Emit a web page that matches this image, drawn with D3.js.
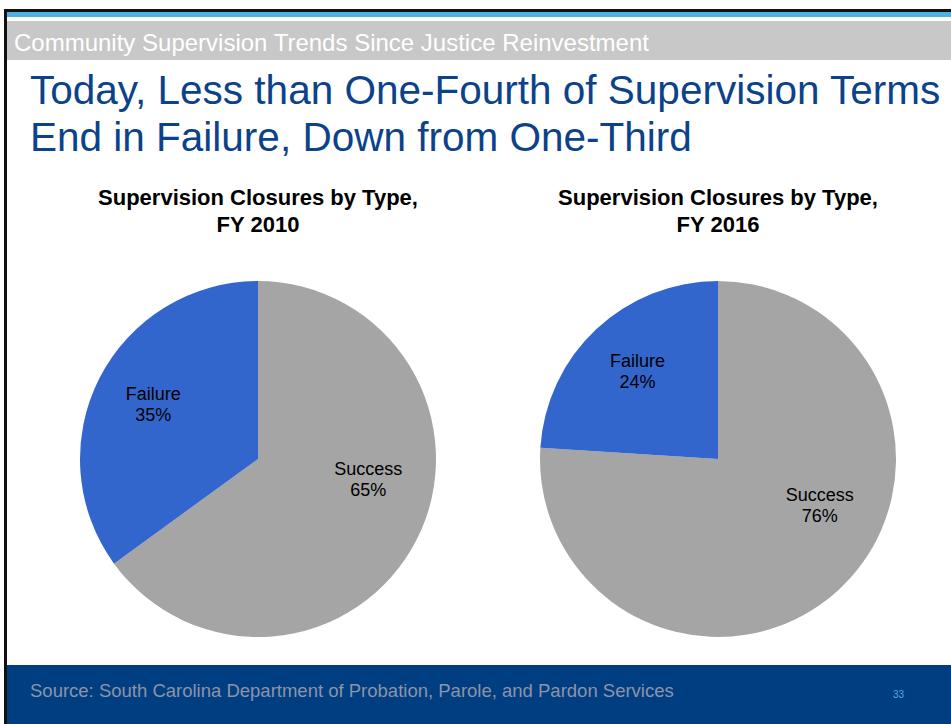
<!DOCTYPE html>
<html>
<head>
<meta charset="utf-8">
<script src="https://cdnjs.cloudflare.com/ajax/libs/d3/7.8.5/d3.min.js"></script>
<style>
  html, body { margin: 0; padding: 0; background: #fff; }
  svg { display: block; font-family: "Liberation Sans", Arial, sans-serif; }
</style>
</head>
<body>
<script>
// DATA
var categories = ["Success", "Failure"];
var years = ["FY 2010", "FY 2016"];
var values2010 = [65, 35];
var values2016 = [76, 24];
var colours = ["#a5a5a5", "#3366cc"];

var width = 951, height = 724;

var svg = d3.select("body").append("svg")
  .attr("width", width).attr("height", height)
  .attr("viewBox", "0,0," + width + "," + height);

// frame and header bands
svg.append("rect").attr("x", 4).attr("y", 9).attr("width", width - 4).attr("height", 3).attr("fill", "#111");
svg.append("rect").attr("x", 4).attr("y", 9).attr("width", 3).attr("height", height - 9).attr("fill", "#111");
svg.append("rect").attr("x", 7).attr("y", 12).attr("width", width - 7).attr("height", 5).attr("fill", "#4fb0e4");
svg.append("rect").attr("x", 7).attr("y", 21).attr("width", width - 7).attr("height", 39).attr("fill", "#c8c8c8");
svg.append("text").text("Community Supervision Trends Since Justice Reinvestment")
  .attr("x", 14).attr("y", 51)
  .attr("font-size", "24px").attr("fill", "#ffffff");

// slide title
var title = svg.append("text").attr("fill", "#0b428a").attr("font-size", "40.5px");
title.append("tspan").attr("x", 30).attr("y", 104).text("Today, Less than One-Fourth of Supervision Terms");
title.append("tspan").attr("x", 30).attr("y", 151).text("End in Failure, Down from One-Third");

// footer
svg.append("rect").attr("x", 7).attr("y", 665).attr("width", width - 7).attr("height", height - 665).attr("fill", "#003e82");
svg.append("text").text("Source: South Carolina Department of Probation, Parole, and Pardon Services")
  .attr("x", 30).attr("y", 697).attr("font-size", "18.5px").attr("fill", "#8d93a8");
svg.append("text").text("33")
  .attr("x", 893).attr("y", 698).attr("font-size", "10px").attr("fill", "#4fa8e0");

// PIES
var radius = 178;
var pie = d3.pie().sort(null).value(function(d){ return d; });
var arc = d3.arc().innerRadius(0).outerRadius(radius);
var deg = Math.PI / 180;

function drawPie(cx, cy, values, year){
  var g = svg.append("g").attr("transform", "translate(" + cx + "," + cy + ")");

  var t = g.append("text").attr("text-anchor", "middle").attr("font-weight", "bold")
    .attr("font-size", "22px").attr("fill", "#000");
  t.append("tspan").attr("x", 0).attr("y", -254).text("Supervision Closures by Type,");
  t.append("tspan").attr("x", 0).attr("y", -227).text(year);

  var arcs = pie(values);
  g.selectAll("path.slice").data(arcs).enter().append("path")
    .attr("class", "slice")
    .attr("d", arc)
    .attr("fill", function(d, i){ return colours[i]; });

  arcs.forEach(function(d, i){
    var mid = (d.startAngle + d.endAngle) / 2;
    var r = radius * 0.66;
    // big slice label is pulled toward horizontal (like Excel best fit)
    if (d.endAngle - d.startAngle > Math.PI) {
      mid -= 8 * deg + 0.29 * (mid - 90 * deg);
      r = 112.5;
    }
    var x = r * Math.sin(mid), y = -r * Math.cos(mid);
    var lt = g.append("text").attr("text-anchor", "middle").attr("font-size", "18px").attr("fill", "#000");
    lt.append("tspan").attr("x", x).attr("y", y - 6).text(categories[i]);
    lt.append("tspan").attr("x", x).attr("y", y + 15).text(d.data + "%");
  });
}

drawPie(258, 459, values2010, years[0]);
drawPie(718, 459, values2016, years[1]);
</script>
</body>
</html>
